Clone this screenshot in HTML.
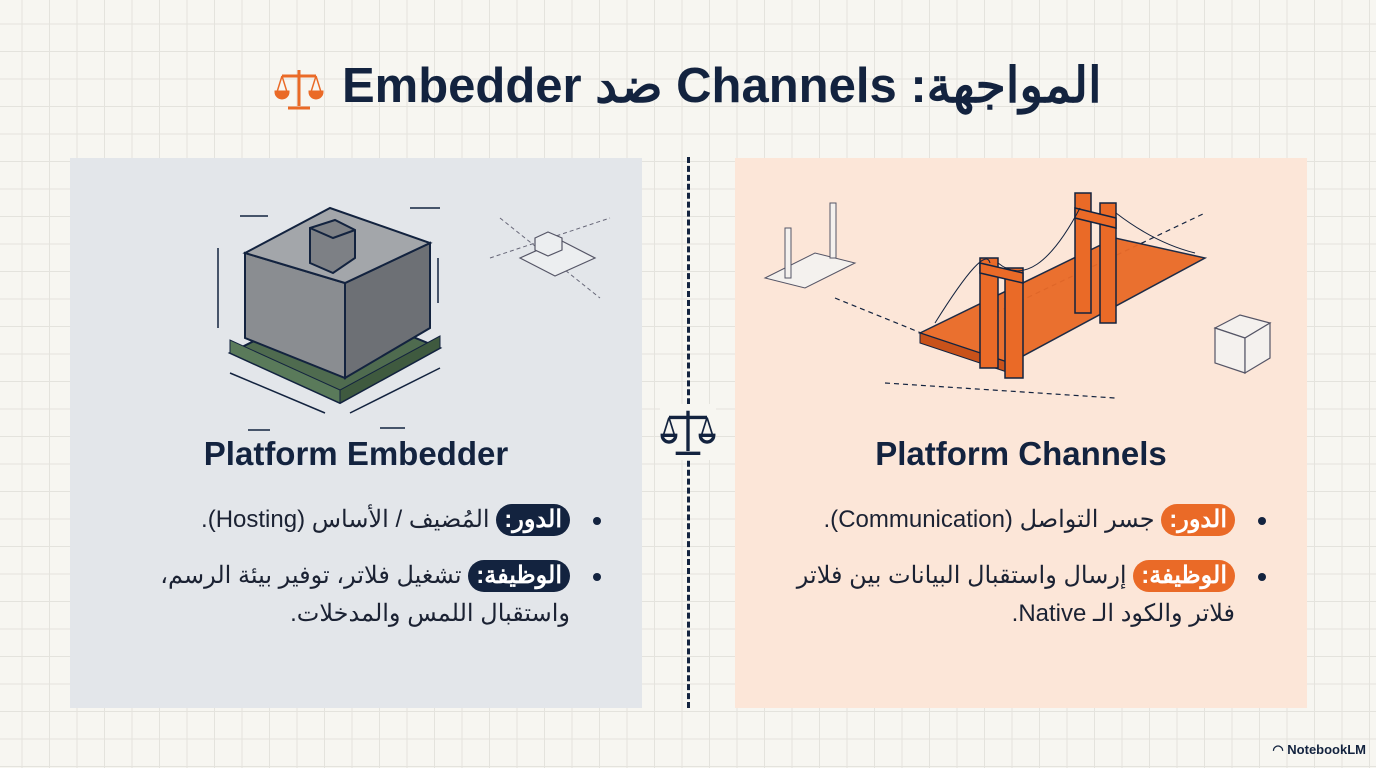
<!DOCTYPE html>
<html><head><meta charset="utf-8"><style>
*{margin:0;padding:0;box-sizing:border-box}
body{width:1376px;height:768px;overflow:hidden;position:relative;font-family:"Liberation Sans","Noto Sans CJK SC",sans-serif;color:#13233f;
background-color:#f7f6f1;
background-image:linear-gradient(#e4e3dd 1px,transparent 1px),linear-gradient(90deg,#e4e3dd 1px,transparent 1px);background-size:27.5px 27.5px;background-position:-6px -4px}
.title{position:absolute;top:57px;left:0;width:1376px;text-align:center;font-size:49px;font-weight:bold;direction:rtl;white-space:nowrap}
.panel{position:absolute;top:158px;width:572px;height:550px}
.l{left:70px;background:#e3e6ea}.r{left:735px;background:#fce6d8}
.h{position:absolute;top:277px;width:100%;text-align:center;font-size:33px;font-weight:bold}
.list{position:absolute;top:343px;right:35px;direction:rtl;font-size:24px;line-height:38px;color:#1b2233}
.item{position:relative;padding-right:37px;margin-bottom:18px}
.item:before{content:"";position:absolute;right:6px;top:16px;width:8px;height:8px;border-radius:50%;background:#13233f}
.tag{display:inline-block;padding:0 8px;border-radius:16px;line-height:32px;font-weight:bold;color:#fff}
.l .tag{background:#13233f}.r .tag{background:#ea6a27}
.div{position:absolute;left:687px;top:157px;height:551px;border-left:3px dashed #13233f}
</style></head><body>
<div class="title"><span>المواجهة: Channels ضد Embedder</span>
<svg width="50" height="50" viewBox="0 0 50 50" style="vertical-align:middle;margin-right:4px"><g fill="#ea6a27" stroke="#ea6a27" stroke-width="3"><line x1="25" y1="6" x2="25" y2="42"/><line x1="8" y1="12" x2="42" y2="12"/><line x1="14" y1="44" x2="36" y2="44"/><path d="M2 28 L14 28 A6 6 0 0 1 2 28Z"/><path d="M36 28 L48 28 A6 6 0 0 1 36 28Z"/><line x1="8" y1="12" x2="3" y2="28" stroke-width="1.5"/><line x1="8" y1="12" x2="13" y2="28" stroke-width="1.5"/><line x1="42" y1="12" x2="37" y2="28" stroke-width="1.5"/><line x1="42" y1="12" x2="47" y2="28" stroke-width="1.5"/></g></svg></div>

<div class="panel l">
<svg width="572" height="260" style="position:absolute;left:0;top:40px">
<polygon points="160,155 270,205 370,150 260,105" fill="#4f6b4f" stroke="#13233f" stroke-width="2"/>
<polygon points="160,155 270,205 270,192 160,142" fill="#5a7a5a" stroke="#13233f"/>
<polygon points="270,205 370,150 370,138 270,192" fill="#3f5a3f" stroke="#13233f"/>
<polygon points="175,55 275,85 275,180 175,140" fill="#8a8d91" stroke="#13233f" stroke-width="2"/>
<polygon points="275,85 360,45 360,130 275,180" fill="#6d7075" stroke="#13233f" stroke-width="2"/>
<polygon points="175,55 260,10 360,45 275,85" fill="#a3a6aa" stroke="#13233f" stroke-width="2"/>
<polygon points="240,30 265,22 285,32 285,60 263,75 240,65" fill="#7d8085" stroke="#13233f" stroke-width="2"/>
<polyline points="240,30 263,40 285,32 M263,40 263,75" fill="none" stroke="#13233f" stroke-width="2"/>
<g stroke="#13233f" stroke-width="1.5" fill="none"><line x1="148" y1="50" x2="148" y2="130"/><line x1="368" y1="60" x2="368" y2="105"/><line x1="160" y1="175" x2="255" y2="215"/><line x1="280" y1="215" x2="370" y2="170"/><line x1="170" y1="18" x2="198" y2="18"/><line x1="340" y1="10" x2="370" y2="10"/><line x1="178" y1="232" x2="200" y2="232"/><line x1="310" y1="230" x2="335" y2="230"/></g>
<g stroke="#667" stroke-width="1" fill="none" stroke-dasharray="4 3"><line x1="420" y1="60" x2="540" y2="20"/><line x1="430" y1="20" x2="530" y2="100"/></g>
<g stroke="#556" stroke-width="1.2" fill="#eceef0"><polygon points="450,60 485,78 525,60 490,42"/><polygon points="465,40 478,34 492,40 492,52 478,58 465,52"/></g>
</svg>
<div class="h">Platform Embedder</div>
<div class="list" style="width:455px">
<div class="item"><span class="tag">الدور:</span> المُضيف / الأساس (Hosting).</div>
<div class="item"><span class="tag">الوظيفة:</span> تشغيل فلاتر، توفير بيئة الرسم، واستقبال اللمس والمدخلات.</div>
</div>
</div>

<div class="div"></div>
<svg width="56" height="56" viewBox="0 0 50 50" style="position:absolute;left:660px;top:404px;background:#f7f6f1"><g fill="none" stroke="#13233f" stroke-width="3"><line x1="25" y1="6" x2="25" y2="42"/><line x1="8" y1="12" x2="42" y2="12"/><line x1="14" y1="44" x2="36" y2="44"/><path d="M2 28 L14 28 A6 6 0 0 1 2 28Z"/><path d="M36 28 L48 28 A6 6 0 0 1 36 28Z"/><line x1="8" y1="12" x2="3" y2="28" stroke-width="1.5"/><line x1="8" y1="12" x2="13" y2="28" stroke-width="1.5"/><line x1="42" y1="12" x2="37" y2="28" stroke-width="1.5"/><line x1="42" y1="12" x2="47" y2="28" stroke-width="1.5"/></g></svg>

<div class="panel r">
<svg width="572" height="260" style="position:absolute;left:0;top:25px">
<g stroke="#13233f" stroke-width="1.2" fill="none" stroke-dasharray="5 4"><line x1="150" y1="200" x2="380" y2="215"/><line x1="260" y1="130" x2="470" y2="30"/><line x1="100" y1="115" x2="260" y2="180"/></g>
<polygon points="185,150 380,55 470,75 275,180" fill="#ea6a27" stroke="#13233f" stroke-width="1.5" opacity="0.95"/>
<polygon points="185,150 275,180 275,190 185,160" fill="#c9521a" stroke="#13233f"/>
<g fill="#ea6a27" stroke="#13233f" stroke-width="1.5">
<rect x="245" y="75" width="18" height="110"/><rect x="270" y="85" width="18" height="110"/>
<rect x="340" y="10" width="16" height="120"/><rect x="365" y="20" width="16" height="120"/>
<polygon points="245,80 288,90 288,100 245,90"/><polygon points="340,25 381,35 381,45 340,35"/></g>
<g stroke="#13233f" fill="none" stroke-width="1"><path d="M200 140 Q250 60 255 80"/><path d="M263 80 Q300 110 345 25"/><path d="M381 30 Q420 60 460 70"/></g>
<g stroke="#556" fill="#f4f1ee" stroke-width="1"><polygon points="30,95 80,70 120,80 70,105"/><rect x="50" y="45" width="6" height="50"/><rect x="95" y="20" width="6" height="55"/></g>
<g stroke="#556" fill="#f4f1ee" stroke-width="1.2"><polygon points="480,145 505,132 535,140 510,155"/><polygon points="480,145 510,155 510,190 480,180"/><polygon points="510,155 535,140 535,175 510,190"/></g>
</svg>
<div class="h">Platform Channels</div>
<div class="list" style="width:490px">
<div class="item"><span class="tag">الدور:</span> جسر التواصل (Communication).</div>
<div class="item"><span class="tag">الوظيفة:</span> إرسال واستقبال البيانات بين فلاتر فلاتر والكود الـ Native.</div>
</div>
</div>
<div style="position:absolute;right:10px;bottom:10px;font-size:13px;font-weight:bold">◠ NotebookLM</div>
</body></html>
